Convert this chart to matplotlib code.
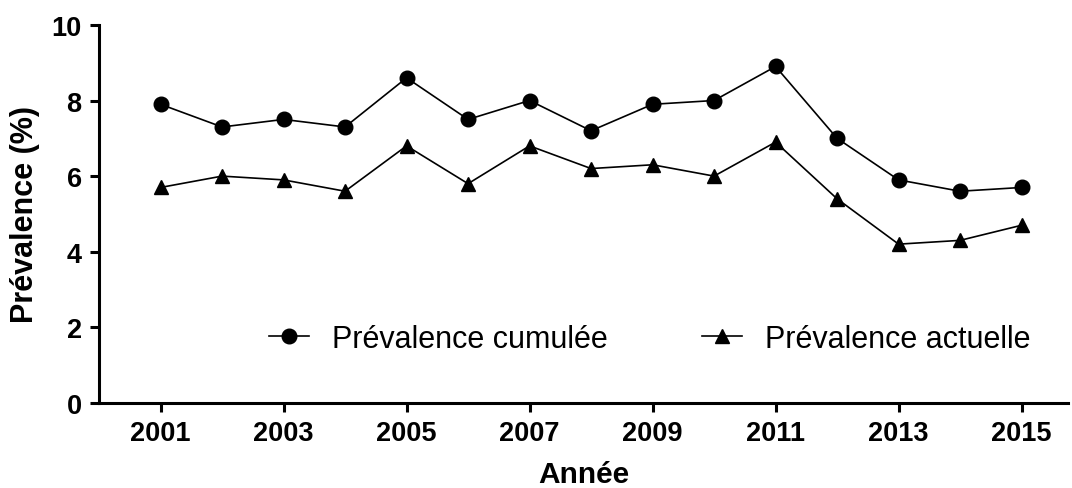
import matplotlib
matplotlib.use("Agg")
import matplotlib.pyplot as plt

plt.rcParams['font.family'] = ['Liberation Sans', 'DejaVu Sans']

# data
years = [2001, 2002, 2003, 2004, 2005, 2006, 2007, 2008,
         2009, 2010, 2011, 2012, 2013, 2014, 2015]
cumulee = [7.9, 7.3, 7.5, 7.3, 8.6, 7.5, 8.0, 7.2, 7.9, 8.0, 8.9, 7.0, 5.9, 5.6, 5.7]
actuelle = [5.7, 6.0, 5.9, 5.6, 6.8, 5.8, 6.8, 6.2, 6.3, 6.0, 6.9, 5.4, 4.2, 4.3, 4.7]
xticks = [2001, 2003, 2005, 2007, 2009, 2011, 2013, 2015]
yticks = [0, 2, 4, 6, 8, 10]

fig = plt.figure(figsize=(10.72, 4.89), dpi=100)
ax = fig.add_axes([0.0924, 0.174, 0.9036, 0.773])

ax.plot(years, cumulee, color='black', lw=1.2, marker='o', ms=10.5,
        label='Prévalence cumulée')
ax.plot(years, actuelle, color='black', lw=1.2, marker='^', ms=10.5,
        label='Prévalence actuelle')

ax.set_xlim(2000.0, 2015.75)
ax.set_ylim(0, 10)
ax.set_xticks(xticks)
ax.set_yticks(yticks)

for s in ['top', 'right']:
    ax.spines[s].set_visible(False)
for s in ['left', 'bottom']:
    ax.spines[s].set_linewidth(2.2)

ax.tick_params(width=2.2, length=6.5, labelsize=19.5, pad=6)
for lab in ax.get_xticklabels() + ax.get_yticklabels():
    lab.set_fontweight('bold')

ax.set_xlabel('Année', fontsize=21.5, fontweight='bold', labelpad=10)
ax.set_ylabel('Prévalence (%)', fontsize=22, fontweight='bold', labelpad=8)

ax.legend(loc='center left', bbox_to_anchor=(0.147, 0.169), ncol=2,
          frameon=False, fontsize=22, handlelength=1.3, columnspacing=3.1,
          handletextpad=0.75, markerscale=1.0)

fig.savefig('out.png', dpi=100)
